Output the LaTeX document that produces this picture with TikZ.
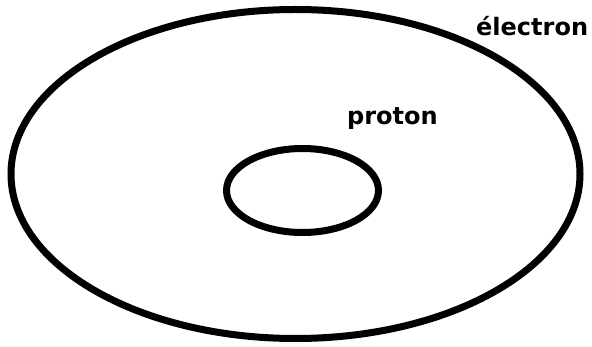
\documentclass[tikz,border=0pt]{standalone}
\usepackage{fontspec}
\setmainfont{DejaVu Sans}
\usetikzlibrary{shapes.geometric}
\begin{document}
\begin{tikzpicture}[x=1pt,y=-1pt,
  orbit/.style={draw=black,line width=7pt,ellipse,inner sep=0pt},
  lbl/.style={font=\bfseries\fontsize{24}{26}\selectfont,inner sep=0pt,anchor=base west}]
\useasboundingbox (0,0) rectangle (592,347);
\node[orbit,minimum width=569pt,minimum height=329pt] (electron) at (295.5,174) {};
\node[orbit,minimum width=152pt,minimum height=84pt] (proton) at (302.5,190.5) {};
\node[lbl] (lelectron) at (476,36) {électron};
\node[lbl] (lproton) at (347,125) {proton};
\end{tikzpicture}
\end{document}
